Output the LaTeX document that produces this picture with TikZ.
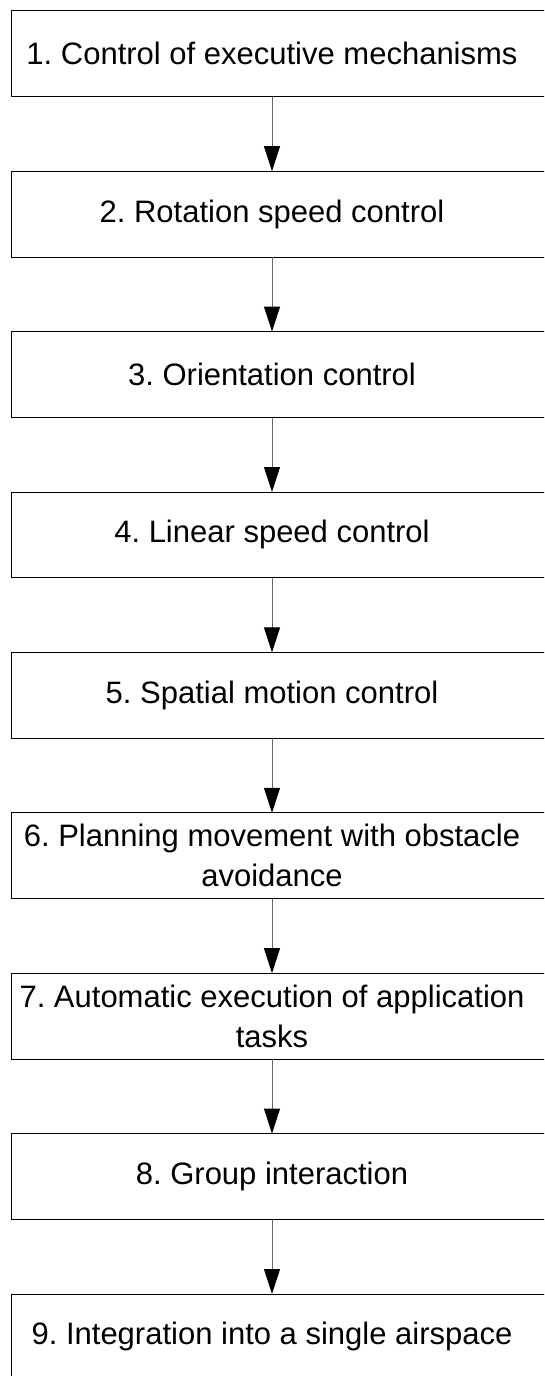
\documentclass[tikz,border=0pt]{standalone}
\usepackage{fontspec}
\setmainfont{Liberation Sans}
\usetikzlibrary{arrows.meta}
\begin{document}
\frenchspacing
\begin{tikzpicture}[x=1pt,y=-1pt,
  stepbox/.style={minimum width=520pt, minimum height=85.5pt, inner sep=0pt, align=center,
    font=\fontsize{31}{40}\selectfont},
  boxline/.style={draw=black, line width=1pt},
  conn/.style={draw=black!60, line width=1pt, -{Triangle[length=25pt,width=16pt,color=black]}}]
\useasboundingbox (0,0) rectangle (544,1376);
\clip (0,0) rectangle (544,1376);
\node[stepbox] (b1) at (272,53.75) {1. Control of executive mechanisms};
\node[stepbox] (b2) at (272,214.15) {2. Rotation speed control};
\node[stepbox] (b3) at (272,374.55) {3. Orientation control};
\node[stepbox] (b4) at (272,534.95) {4. Linear speed control};
\node[stepbox] (b5) at (272,695.35) {5. Spatial motion control};
\node[stepbox] (b6) at (272,855.75) {6. Planning movement with obstacle\\avoidance};
\node[stepbox] (b7) at (272,1016.15) {7. Automatic execution of application\\tasks};
\node[stepbox] (b8) at (272,1176.55) {8. Group interaction};
\node[stepbox] (b9) at (272,1336.95) {9. Integration into a single airspace};
\foreach \n in {b1,b2,b3,b4,b5,b6,b7,b8,b9}
  \draw[boxline] (\n.north west) rectangle ([xshift=80pt]\n.south east);
\foreach \a/\b in {b1/b2,b2/b3,b3/b4,b4/b5,b5/b6,b6/b7,b7/b8,b8/b9}
  \draw[conn] (\a.south) -- (\b.north);
\end{tikzpicture}
\end{document}
